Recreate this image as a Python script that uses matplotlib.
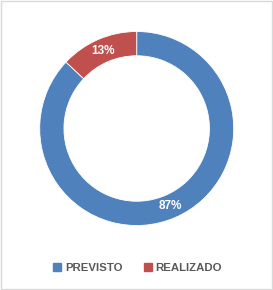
import matplotlib.pyplot as plt
from matplotlib.lines import Line2D
from matplotlib.patches import Rectangle

# dados
categorias = ["PREVISTO", "REALIZADO"]
valores = [87, 13]
cores = ["#4F81BD", "#C0504D"]

fig = plt.figure(figsize=(2.73, 2.90), dpi=100)
fig.patch.set_facecolor("white")

# moldura do gráfico
fig.patches.append(Rectangle((0.004, 0.004), 0.992, 0.992, transform=fig.transFigure,
                             fill=False, edgecolor="#D9D9D9", lw=1.0))

# eixo quadrado centrado no anel
cx, cy, lado = 136.7, 128.5, 200
ax = fig.add_axes([(cx - lado / 2) / 273, (290 - cy - lado / 2) / 290, lado / 273, lado / 290])

wedges, textos, pcts = ax.pie(
    valores, colors=cores, startangle=90, counterclock=False,
    radius=1.0, autopct="%d%%", pctdistance=0.875,
    wedgeprops=dict(width=0.25, edgecolor="white", linewidth=0.6),
    textprops=dict(color="white", fontsize=8.5, fontweight="bold", family="Liberation Sans"),
)
r = 100 / 97
ax.set_xlim(-r, r)
ax.set_ylim(-r, r)
ax.set_aspect("equal")
ax.axis("off")

# legenda
handles = [Line2D([], [], marker="s", linestyle="", markersize=6, markerfacecolor=c,
                  markeredgecolor=c) for c in cores]
leg = fig.legend(handles, categorias, loc="center", bbox_to_anchor=(0.505, 1 - 268 / 290),
                 ncol=2, frameon=False, handlelength=0.6, handletextpad=0.4,
                 columnspacing=1.9,
                 prop=dict(family="Liberation Sans", weight="bold", size=8.2))
for t in leg.get_texts():
    t.set_color("#595959")

fig.savefig("out.png", dpi=100)
